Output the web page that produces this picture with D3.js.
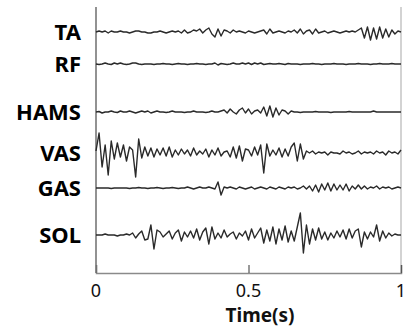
<!DOCTYPE html>
<html>
<head>
<meta charset="utf-8">
<script src="https://cdn.jsdelivr.net/npm/d3@7"></script>
<style>
  body { margin: 0; background: #fff; }
  svg { display: block; }
</style>
</head>
<body>
<div id="chart"></div>
<script>
// channel names, top to bottom
const muscles = ['TA', 'RF', 'HAMS', 'VAS', 'GAS', 'SOL'];
const xTicks = [0, 0.5, 1];
const xTickLabels = ['0', '0.5', '1'];
const xLabel = 'Time(s)';

// EMG amplitude, 101 samples over 1 s
const TA = [
  0, 1, 0, 1, -1, 1, 0, 0, 1, 0,
  0, -1, 0, 1, 1, 0, 0, -1, -1, 0,
  0, 1, 0, -1, 0, 1, 0, 1, -1, 2,
  -1, 0, 2, 1, 3, -1, 2, 4, -2, -5,
  3, -4, 2, 1, -1, 2, 0, 1, 0, -1,
  1, 0, -1, 0, 1, 2, -2, 3, -1, 0,
  1, 0, -1, 1, 0, 2, -1, 3, -2, 1,
  2, -2, 3, -1, 0, 1, -1, 0, 1, 0,
  -1, 0, 1, 0, 1, 0, 2, 4, -6, 5,
  -8, 4, -7, 5, -6, 3, -5, 2, -2, 1,
  0
];
const RF = [
  0, -0.5, 0, 1, 0, -0.5, 1, 0, 1, 0,
  -0.5, 0, 1, 1, 0, -0.5, 0, 0, 0, -0.5,
  0, 0, 0.5, 0, 0, -0.5, 0, 0.5, 0, 0,
  -0.5, 0, 0, 0.5, 0, 0, -0.5, 0, 0, 1,
  -1, 0.5, 0, -0.5, 0, 1, 0, 0, 1, 0,
  1, -0.5, 1, 0, 1, -0.5, 0, 0.5, 0, 0,
  0.5, 0, -0.5, 0.5, 0, 0, 0, -0.5, 0, 0,
  0, 0.5, 0, 0, -0.5, 0, 0, 0, 0.5, 0,
  0, 0, -0.5, 0, 0, 0, 0.5, 0, 0, 0,
  -0.5, 0, 0, 0.5, 0, 0, 0, 0.5, 0, 0,
  0
];
const HAMS = [
  0, 0.5, -1, 0, 0, 1, 0, -0.5, 1, 0,
  0, 1, 0, -1, 0, 1, 0, 1, -1, 0,
  1, 0, 0, -0.5, 0, 1, 0, 0, 0, -0.5,
  0, 0, 1, 0, 0, 0, -0.5, 0, 1, 0,
  0, 1, 2, -1, 3, 0, -2, 2, 4, -1,
  3, -2, 1, 2, -1, 5, -4, 6, -5, 4,
  -3, 2, 1, -2, 1, 0, 0, -0.5, 0, 0,
  0, 0, 0.5, 0, 0, 0, 0, -0.5, 0, 0,
  0, 0, 0, 0.5, 0, 0, 0, 0, 0, 0,
  0, 1, 0, 0, 0, 0, 0, 0, 0, 0,
  0
];
const VAS = [
  2, 20, -14, 8, -22, 12, -6, 10, -4, 8,
  -8, 6, 3, -24, 14, -5, 6, -3, 5, -4,
  4, -2, 5, -3, 6, -4, 3, -2, 4, -1,
  3, -3, 5, -2, 2, -1, 4, -4, 3, -2,
  5, -3, 1, 2, -4, 6, -5, 7, -8, 4,
  3, -3, 6, -2, 8, -20, 9, -3, 3, -2,
  5, -4, 4, -3, 6, 10, -8, 9, -6, 2,
  0, 2, -1, 1, 0, 1, -2, 1, 0, 0,
  -1, 2, 0, 1, -1, 0, 2, -1, 1, 0,
  1, -1, 2, 0, 1, -2, 2, 0, 1, -1,
  3
];
const GAS = [
  0, 0, 0, 0, 0, -0.5, 0, 0, 0, 0,
  0, -0.5, 0, 0, 0.5, 0, 0, -0.5, 0, 0,
  0.5, 0, -0.5, 0, 0, 0.5, 0, -0.5, 0, 0,
  1, 0, -1, 0, 1, 0, 0, 1, 0, -1,
  6, -7, 1, 0, 1, 0, -1, 1, 0, -1,
  0, 1, -1, 0, 1, 0, -1, 1, 0, -1,
  1, 0, -1, 1, 0, 1, -1, 0, 2, -1,
  2, -3, 3, -4, 4, -2, 5, -3, 4, -2,
  3, -2, 4, -3, 2, -1, 3, -1, 2, -1,
  1, 0, 2, -1, 1, 0, 1, -1, 0, 1,
  0
];
const SOL = [
  0, 0, 0, 1, 0, 0, 0, -1, 0, 0,
  1, 0, 2, -3, 1, 4, -5, -4, 10, -14,
  5, 3, -2, 1, 4, -4, 2, 5, -6, 3,
  -2, 4, -3, 6, -5, 3, 7, -9, 8, -4,
  2, -3, 5, -2, 1, 3, -4, 2, -1, 4,
  -5, 6, -3, 2, 7, -8, 5, -6, 8, -9,
  6, -5, 9, -7, 4, -6, 8, 22, -18, 10,
  -9, 6, -5, 7, -4, 3, -5, 2, -3, 4,
  -2, 5, -4, 6, -3, 4, 6, -12, 3, -4,
  3, -2, 10, -6, 4, -3, 2, -1, 1, 0,
  0
];
const signals = [TA, RF, HAMS, VAS, GAS, SOL];
const duration = 1; // seconds

// layout
const width = 408, height = 334;
const margin = { left: 96, right: 7, top: 7, bottom: 61 };
const rowY = [32, 64, 112, 153, 188, 235];

const svg = d3.select('#chart').append('svg')
  .attr('width', width)
  .attr('height', height);

const x = d3.scaleLinear()
  .domain([0, duration])
  .range([margin.left, width - margin.right]);

const amp = d3.scaleLinear()
  .domain([-25, 25])
  .range([25, -25]);

const plotBottom = height - margin.bottom;

// frame
svg.append('line')
  .attr('x1', x(1)).attr('x2', x(1))
  .attr('y1', margin.top).attr('y2', plotBottom)
  .attr('stroke', '#c4c4c4').attr('stroke-width', 1.5);

svg.append('g')
  .attr('transform', `translate(0,${plotBottom})`)
  .call(d3.axisTop(x).tickValues(xTicks).tickSize(8).tickFormat(''))
  .call(g => g.select('.domain').attr('stroke', '#8a8a8a').attr('stroke-width', 1.5))
  .call(g => g.selectAll('.tick line').attr('stroke', '#555').attr('stroke-width', 1.2));

svg.append('line')
  .attr('x1', margin.left).attr('x2', margin.left)
  .attr('y1', margin.top).attr('y2', plotBottom)
  .attr('stroke', '#777').attr('stroke-width', 1.6);

// tick labels
svg.append('g').selectAll('text')
  .data(xTicks)
  .join('text')
  .attr('x', d => x(d))
  .attr('y', 297)
  .attr('text-anchor', 'middle')
  .attr('font-family', '"Noto Sans", sans-serif')
  .attr('font-size', 18)
  .attr('fill', '#111')
  .text((d, i) => xTickLabels[i]);

svg.append('text')
  .attr('x', 260)
  .attr('y', 322)
  .attr('text-anchor', 'middle')
  .attr('font-family', '"Noto Sans", sans-serif')
  .attr('font-weight', 'bold')
  .attr('font-size', 19)
  .attr('fill', '#111')
  .text(xLabel);

// traces
const n = TA.length;
signals.forEach((sig, k) => {
  const line = d3.line()
    .x((d, i) => x(i / (n - 1) * duration))
    .y(d => rowY[k] + amp(d));

  svg.append('path')
    .datum(sig)
    .attr('d', line)
    .attr('fill', 'none')
    .attr('stroke', '#2a2a2a')
    .attr('stroke-width', 1.4)
    .attr('stroke-linejoin', 'round');

  svg.append('text')
    .attr('x', 81)
    .attr('y', rowY[k])
    .attr('dy', '0.36em')
    .attr('text-anchor', 'end')
    .attr('font-family', '"Noto Sans", sans-serif')
    .attr('font-weight', 'bold')
    .attr('font-size', 22)
    .attr('fill', '#000')
    .text(muscles[k]);
});
</script>
</body>
</html>
